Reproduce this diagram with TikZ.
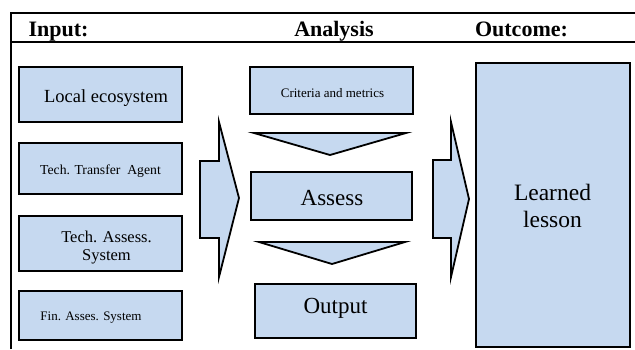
\documentclass[tikz,border=0pt]{standalone}
\usepackage{fontspec}
\setmainfont{Liberation Serif}
\newfontfamily\tnr{Liberation Serif}
\definecolor{boxfill}{RGB}{198,217,240}
\begin{document}
\begin{tikzpicture}[x=1pt,y=-1pt,
  box/.style={draw=black,line width=1.5pt,fill=boxfill,inner sep=0pt},
  shapeline/.style={draw=black,line width=1.8pt,fill=boxfill,line join=miter},
  frameline/.style={line width=2pt},
  lbl/.style={inner sep=0pt,anchor=base},
  txt/.style={lbl,font=\tnr\fontsize{#1}{#1}\selectfont},
  head/.style={lbl,font=\tnr\fontsize{22}{24}\selectfont\bfseries}]
\useasboundingbox (0,0) rectangle (635,349);

% table frame and header row
\draw[frameline] (11,349) -- (11,12.7) -- (635,12.7);
\draw[frameline] (11,42) -- (635,42);
\node[head] (hin)  at (58.5,36) {Input:};
\node[head] (han)  at (334,36)  {Analysis};
\node[head] (hout) at (521.5,36) {Outcome:};

% input boxes
\node[box,minimum width=163pt,minimum height=55pt] (loc) at (100.5,94.5) {};
\node[box,minimum width=163pt,minimum height=51pt] (tta) at (100.5,168.5) {};
\node[box,minimum width=163pt,minimum height=55pt] (tas) at (100.5,243.5) {};
\node[box,minimum width=163pt,minimum height=49pt] (fin) at (100.5,315.5) {};

\node[txt=18.5] (loc-t) at (106,102) {Local ecosystem};
\node[txt=13.7] (tta-t) at (100.5,174) {Tech. Transfer\ \ Agent};
\node[txt=16.5] (tas-t1) at (106.5,242) {Tech. Assess.};
\node[txt=16.5] (tas-t2) at (106.5,260) {System};
\node[txt=13] (fin-t) at (91,320) {Fin. Asses. System};

% analysis column
\node[box,minimum width=163pt,minimum height=47pt] (crit) at (331.5,90.5) {};
\node[box,minimum width=161pt,minimum height=48pt] (assess) at (331.5,196) {};
\node[box,minimum width=161pt,minimum height=54pt] (out) at (335.5,311) {};

\node[txt=13] (crit-t) at (332.5,97) {Criteria and metrics};
\node[txt=23] (assess-t) at (332,205) {Assess};
\node[txt=23] (out-t) at (335.5,313) {Output};

% downward triangles between analysis steps
\draw[shapeline] (254,133) -- (406,133) -- (330,155) -- cycle;
\draw[shapeline] (259,242) -- (405,242) -- (332,264) -- cycle;

% outcome box
\node[box,minimum width=154pt,minimum height=284pt] (learned) at (553,205) {};
\node[txt=23.5] (learned-t1) at (552.5,200) {Learned};
\node[txt=23.5] (learned-t2) at (552.5,227) {lesson};

% block arrows between the columns
\draw[shapeline] (200,161) -- (219,161) -- (219,122) -- (239,198)
  -- (219,277) -- (219,238) -- (200,238) -- cycle;
\draw[shapeline] (433,160) -- (451,160) -- (451,122) -- (469,199)
  -- (451,277) -- (451,238) -- (433,238) -- cycle;
\end{tikzpicture}
\end{document}
